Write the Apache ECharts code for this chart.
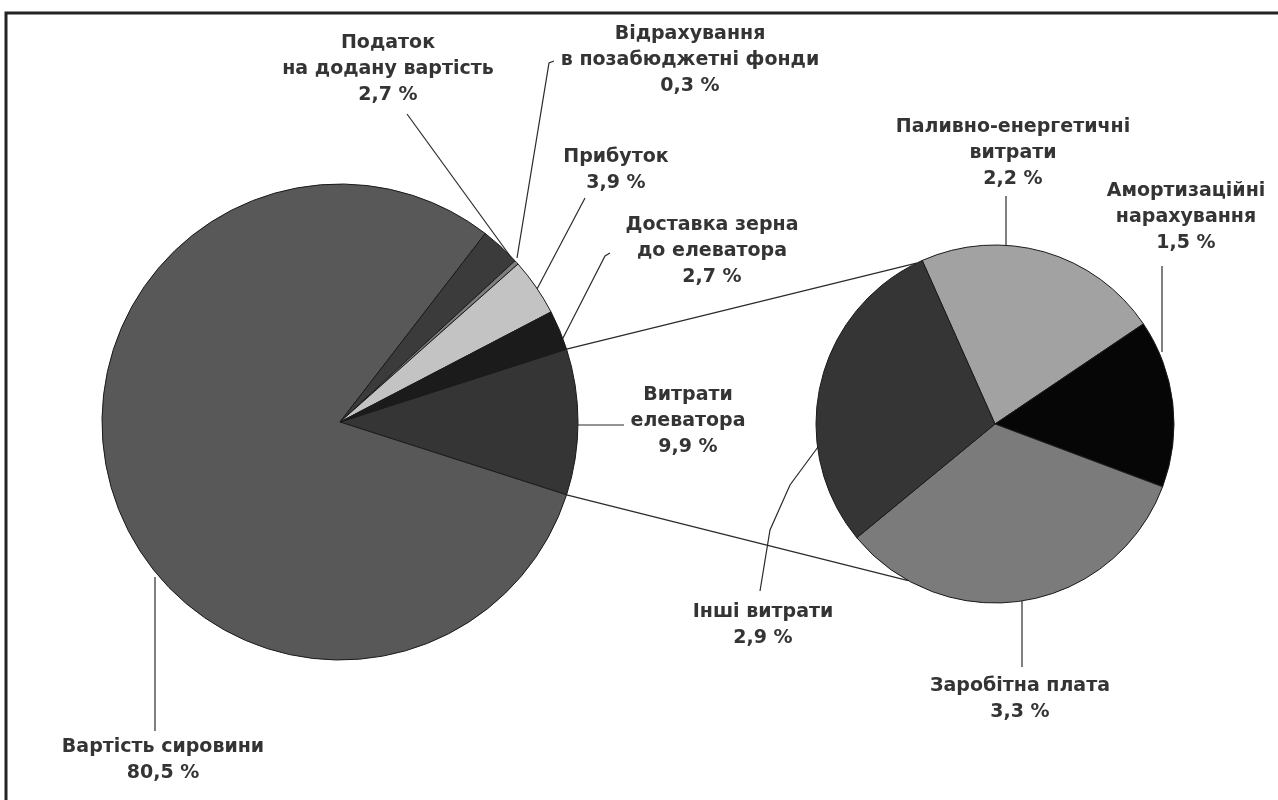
<!DOCTYPE html>
<html>
<head>
<meta charset="utf-8">
<script src="https://cdn.jsdelivr.net/npm/echarts@6/dist/echarts.min.js"></script>
<style>
  html, body { margin: 0; padding: 0; background: #ffffff; }
  #chart { width: 1278px; height: 800px; }
</style>
</head>
<body>
<div id="chart"></div>
<script>
// Cost structure of the product, % (main pie)
const costNames = [
  'Витрати\nелеватора',
  'Вартість сировини',
  'Податок\nна додану вартість',
  'Відрахування\nв позабюджетні фонди',
  'Прибуток',
  'Доставка зерна\nдо елеватора'
];
const costValues = [9.9, 80.5, 2.7, 0.3, 3.9, 2.7];

// Breakdown of the elevator costs, % (second pie)
const elevatorNames = [
  'Паливно-енергетичні\nвитрати',
  'Амортизаційні\nнарахування',
  'Заробітна плата',
  'Інші витрати'
];
const elevatorValues = [2.2, 1.5, 3.3, 2.9];

// Fill shades
const costColors = ['#353535', '#585858', '#3b3b3b', '#7d7d7d', '#c3c3c3', '#1b1b1b'];
const elevatorColors = ['#a2a2a2', '#060606', '#7b7b7b', '#353535'];

// Geometry of the two pies
const mainCenter = [340, 422], mainRadius = 238;
const subCenter = [995, 424], subRadius = 179;
const subStartAngle = 114;
// angles on the second pie where the connector lines meet it
const subTopAngle = 116, subBottomAngle = 241;

// Label placement (text centre) and leader line points
const mainLabelLayout = [
  { x: 688, y: 421, line: [[578, 425], [624, 425]] },
  { x: 163, y: 760, line: [[155, 577], [155, 731]] },
  { x: 388, y: 69,  line: [[513, 260], [407, 114]] },
  { x: 690, y: 60,  line: [[517, 258], [549, 63], [554, 61]] },
  { x: 616, y: 170, line: [[537, 289], [585, 198]] },
  { x: 712, y: 251, line: [[562, 340], [605, 256], [610, 253]] }
];
const subLabelLayout = [
  { x: 1013, y: 153, line: [[1006, 247], [1006, 196]] },
  { x: 1186, y: 217, line: [[1162, 352], [1162, 266]] },
  { x: 1020, y: 699, line: [[1022, 601], [1022, 667]] },
  { x: 763,  y: 625, line: [[818, 447], [790, 485], [770, 530], [760, 591]] }
];

const fontFamily = '"DejaVu Sans", "Liberation Sans", sans-serif';
const textColor = '#343434';
const lineColor = '#2a2a2a';

function pct(v) {
  return v.toFixed(1).replace('.', ',') + ' %';
}

function pieSeries(names, values, colors, center, radius, startAngle, layout) {
  return {
    type: 'pie',
    silent: true,
    center: center,
    radius: radius,
    startAngle: startAngle,
    clockwise: true,
    avoidLabelOverlap: false,
    minShowLabelAngle: 0,
    data: names.map((n, i) => ({ name: n, value: values[i], itemStyle: { color: colors[i] } })),
    itemStyle: { borderColor: '#1a1a1a', borderWidth: 1 },
    label: {
      show: true,
      position: 'outside',
      formatter: p => p.name + '\n' + pct(p.value),
      color: textColor,
      fontFamily: fontFamily,
      fontWeight: 'bold',
      fontSize: 19,
      lineHeight: 26,
      align: 'center'
    },
    labelLine: {
      show: true,
      length: 10,
      length2: 10,
      lineStyle: { color: lineColor, width: 1.2 }
    },
    labelLayout: p => {
      const L = layout[p.dataIndex];
      return { x: L.x, y: L.y, align: 'center', verticalAlign: 'middle', labelLinePoints: L.line };
    }
  };
}

const totalCost = costValues.reduce((a, b) => a + b, 0);
// the elevator slice is centred on the horizontal to the right
const halfElevator = costValues[0] / totalCost * 180;

function onCircle(c, r, deg) {
  const a = deg * Math.PI / 180;
  return [c[0] + r * Math.cos(a), c[1] - r * Math.sin(a)];
}

const connTopA = onCircle(mainCenter, mainRadius, halfElevator);
const connBotA = onCircle(mainCenter, mainRadius, -halfElevator);
const connTopB = onCircle(subCenter, subRadius, subTopAngle);
const connBotB = onCircle(subCenter, subRadius, subBottomAngle);

const chart = echarts.init(document.getElementById('chart'), null, { renderer: 'canvas' });
chart.setOption({
  backgroundColor: '#ffffff',
  animation: false,
  series: [
    pieSeries(costNames, costValues, costColors, mainCenter, mainRadius, halfElevator, mainLabelLayout),
    pieSeries(elevatorNames, elevatorValues, elevatorColors, subCenter, subRadius, subStartAngle, subLabelLayout)
  ],
  graphic: [
    {
      type: 'polyline', silent: true, z: 10,
      shape: { points: [[6, 800], [6, 13], [1278, 13]] },
      style: { stroke: '#232323', lineWidth: 3, fill: null }
    },
    {
      type: 'line', silent: true, z: 10,
      shape: { x1: connTopA[0], y1: connTopA[1], x2: connTopB[0], y2: connTopB[1] },
      style: { stroke: lineColor, lineWidth: 1.2 }
    },
    {
      type: 'line', silent: true, z: 10,
      shape: { x1: connBotA[0], y1: connBotA[1], x2: connBotB[0], y2: connBotB[1] },
      style: { stroke: lineColor, lineWidth: 1.2 }
    }
  ]
});
</script>
</body>
</html>
